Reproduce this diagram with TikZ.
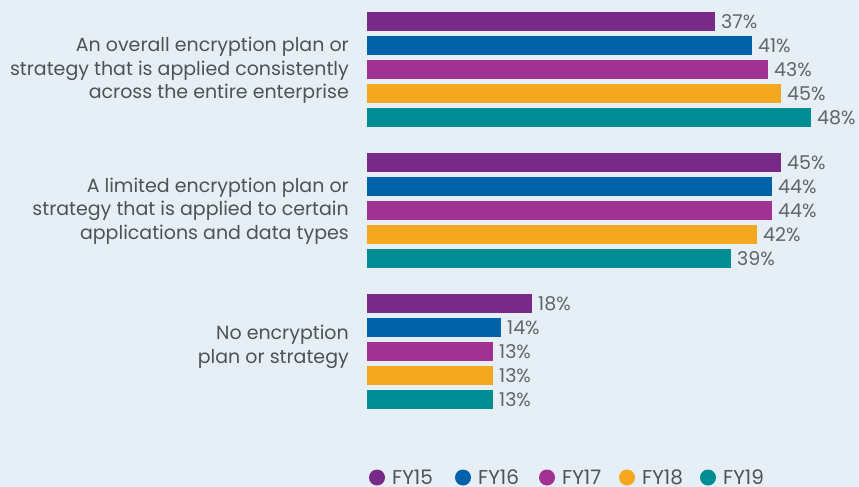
\documentclass[tikz,border=0pt]{standalone}
\usepackage{fontspec}
\setmainfont{Poppins}
\usetikzlibrary{positioning}

\definecolor{bgblue}{HTML}{E6EEF6}
\definecolor{bar1}{HTML}{772A87}
\definecolor{bar2}{HTML}{0062A8}
\definecolor{bar3}{HTML}{A03291}
\definecolor{bar4}{HTML}{F4A81F}
\definecolor{bar5}{HTML}{008C93}
\definecolor{labgray}{HTML}{4F5257}
\definecolor{valgray}{HTML}{60656B}

\tikzset{
  cat/.style={anchor=east,align=right,text=labgray,inner sep=0pt,
    font=\fontsize{19}{23.7}\selectfont},
  val/.style={anchor=base west,text=valgray,inner sep=0pt,
    font=\fontsize{19}{20}\selectfont},
  leg/.style={anchor=base west,text=labgray,inner sep=0pt,
    font=\fontsize{20}{20}\selectfont}
}

\begin{document}
\begin{tikzpicture}[x=1pt,y=-1pt]
\fill[bgblue] (0,0) rectangle (859,487);
\useasboundingbox (0,0) rectangle (859,487);
% bars, five years per group (value/end of bar)
\foreach \g/\yc/\vals in {1/21.5/{37/715,41/752,43/768,45/781,48/811},
                          2/162.5/{45/781,44/772,44/772,42/757,39/731},
                          3/303.5/{18/532,14/501,13/493,13/493,13/493}} {
	\foreach \v/\w [count=\i] in \vals {
		\pgfmathsetmacro{\y}{\yc+(\i-1)*24}
		\fill[bar\i] (367,\y-9.5) rectangle (\w,\y+9.5);
		\node[val] (v\g\i) at (\w+6,\y+7) {\v\%};
	}
}
\node[cat] (cat1) at (349,70.5) {An overall encryption plan or\\strategy that is applied consistently\\across the entire enterprise};
\node[cat] (cat2) at (349,211) {A limited encryption plan or\\strategy that is applied to certain\\applications and data types};
\node[cat] (cat3) at (349,347) {No encryption\\plan or strategy};
% legend
\foreach \n/\x [count=\i] in {FY15/377,FY16/463,FY17/547,FY18/627,FY19/708} {
	\fill[bar\i] (\x,477.5) circle (8);
	\node[leg] (l\i) at (\x+15,484) {\n};
}
\end{tikzpicture}
\end{document}
